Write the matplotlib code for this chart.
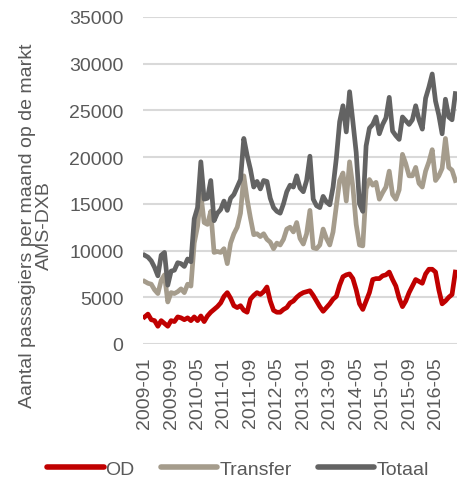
import numpy as np
import pandas as pd
import matplotlib
matplotlib.use("Agg")
import matplotlib.pyplot as plt
from matplotlib.lines import Line2D

# ================= DATA =================
START_MONTH = "2009-01"

OD = [2900, 3200, 2600, 2500, 1900, 2500, 2200, 1900, 2500, 2400,
      2900, 2800, 2600, 2800, 2500, 2900, 2500, 3000, 2400, 3000,
      3400, 3700, 4000, 4400, 5100, 5500, 4900, 4100, 3900, 4100,
      3600, 3400, 4800, 5200, 5500, 5300, 5600, 6100, 4600, 3600,
      3400, 3400, 3700, 3900, 4400, 4600, 5000, 5300, 5500, 5600,
      5700, 5200, 4600, 4000, 3500, 3900, 4300, 4800, 5100, 6300,
      7200, 7400, 7500, 7000, 5800, 4300, 3700, 4600, 5500, 6900,
      7000, 7000, 7300, 7400, 7700, 6900, 6200, 4900, 4000, 4600,
      5500, 6200, 6900, 6700, 6500, 7500, 8000, 8000, 7700, 5800,
      4300, 4600, 5000, 5300, 7700]

TRANSFER = [6700, 6500, 6400, 5800, 5400, 6800, 7400, 4500, 5500, 5400,
            5600, 5900, 5500, 6400, 6200, 10800, 12600, 16000, 13000, 12800,
            14200, 9800, 9900, 9800, 10200, 8600, 10800, 11800, 12500, 14000,
            18000, 15500, 13500, 11700, 11800, 11500, 11800, 11200, 10900, 10200,
            10800, 10600, 11200, 12300, 12500, 12000, 13000, 11300, 10700, 11800,
            14300, 10300, 10200, 10600, 12300, 11300, 10600, 12000, 14800, 17500,
            18300, 15300, 19500, 16800, 12800, 10600, 10500, 16600, 17600, 17000,
            17300, 15500, 16200, 16800, 18500, 16000, 15500, 16500, 20300, 19300,
            18000, 18000, 18900, 17200, 16800, 18500, 19500, 20800, 17500, 18000,
            18800, 22000, 18900, 18600, 17500]

TOTAAL = [9500, 9300, 8900, 8200, 7300, 9500, 9800, 6300, 7800, 7900,
          8700, 8600, 8300, 9100, 8800, 13400, 14600, 19500, 15500, 15600,
          17500, 13200, 14000, 14400, 15300, 14300, 15600, 16000, 16800, 17600,
          22000, 20200, 18700, 16800, 17400, 16600, 17500, 17400, 15600, 14600,
          14200, 14000, 15000, 16300, 17000, 16800, 18000, 16700, 16300, 17500,
          20100, 15500, 14800, 14600, 15800, 15200, 14900, 16800, 19900, 23800,
          25500, 22700, 27000, 23800, 20500, 15000, 14200, 21200, 23100, 23500,
          24300, 22500, 23500, 24200, 26400, 22800, 22300, 21900, 24300, 23900,
          23500, 24000, 25500, 24000, 23000, 26300, 27500, 28900, 26000, 24500,
          22500, 26200, 24300, 24000, 26800]

SERIES = ["OD", "Transfer", "Totaal"]
COLORS = ["#C00000", "#A59C8C", "#636363"]

YTICKS = [0, 5000, 10000, 15000, 20000, 25000, 30000, 35000]
TICK_EVERY = 8

# ================= SETTINGS =================
FONT = "Liberation Sans"
TEXT_COLOR = "#595959"
GRID_COLOR = "#D9D9D9"
FS = 14

plt.rcParams["font.family"] = [FONT, "DejaVu Sans"]

months = pd.period_range(START_MONTH, periods=len(OD), freq="M")
labels = [m.strftime("%Y-%m") for m in months]
x = np.arange(len(OD))

fig = plt.figure(figsize=(4.57, 4.81), dpi=100)
ax = fig.add_axes([143 / 457, 136 / 481, 314 / 457, 327 / 481])

for name, vals, col in zip(SERIES, [OD, TRANSFER, TOTAAL], COLORS):
    ax.plot(x, vals, color=col, lw=3.4, solid_joinstyle="round", zorder=3, label=name)

ax.set_xlim(-0.5, len(OD) - 0.5)
ax.set_ylim(0, 35000)
ax.set_yticks(YTICKS)
ax.set_yticklabels([str(v) for v in YTICKS])
ax.set_xticks(x[::TICK_EVERY])
ax.set_xticklabels(labels[::TICK_EVERY], rotation=90)

ax.grid(axis="y", color=GRID_COLOR, lw=1.5, zorder=0)
ax.set_axisbelow(True)
for s in ax.spines.values():
    s.set_visible(False)
ax.tick_params(axis="both", length=0, labelsize=FS, labelcolor=TEXT_COLOR)
ax.tick_params(axis="y", pad=14)
ax.tick_params(axis="x", pad=9)

fig.text(36 / 457, 1 - 226 / 481, "Aantal passagiers per maand op de markt\nAMS-DXB",
         rotation=90, ha="center", va="center", multialignment="center",
         fontsize=FS, color=TEXT_COLOR, linespacing=1.0)

handles = [Line2D([0], [0], color=c, lw=4, solid_capstyle="round", label=n)
           for n, c in zip(SERIES, COLORS)]
leg = fig.legend(handles=handles, loc="center", bbox_to_anchor=(238 / 457, 1 - 470 / 481),
                 ncol=3, frameon=False, fontsize=FS, handlelength=2.9,
                 handletextpad=0.1, columnspacing=1.35)
for t in leg.get_texts():
    t.set_color(TEXT_COLOR)

fig.savefig("out.png", dpi=100)
